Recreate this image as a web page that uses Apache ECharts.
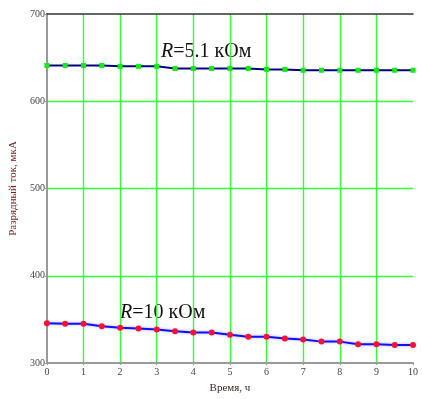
<!DOCTYPE html>
<html>
<head>
<meta charset="utf-8">
<script src="https://cdn.jsdelivr.net/npm/echarts@6/dist/echarts.min.js"></script>
<style>
html, body { margin: 0; padding: 0; background: #fff; }
#main { width: 422px; height: 399px; }
</style>
</head>
<body>
<div id="main"></div>
<script>
// время, ч
var hours = [0, 0.5, 1, 1.5, 2, 2.5, 3, 3.5, 4, 4.5, 5, 5.5, 6, 6.5, 7, 7.5, 8, 8.5, 9, 9.5, 10];
// R = 5.1 кОм, мкА
var current51 = [641, 641, 641, 641, 640, 640, 640, 637.5, 637.5, 637.5, 637.5, 637.5, 636.5, 636.5, 635.5, 635.5, 635.5, 635.5, 635.5, 635.5, 635.5];
// R = 10 кОм, мкА
var current10 = [345.5, 345, 345, 342, 340.5, 339.5, 338.5, 336.5, 335, 335, 332.5, 330, 330, 328, 327, 324.5, 324.5, 321.5, 321.5, 320.5, 320.5];
var yTicks = [300, 400, 500, 600, 700];

function pairs(xs, ys) {
	var out = [];
	for (var i = 0; i < xs.length; i++) out.push([xs[i], ys[i]]);
	return out;
}

var serif = '"Liberation Serif", "DejaVu Serif", serif';
var gridGreen = '#33ff33';
var chart = echarts.init(document.getElementById('main'));

var option = {
	animation: false,
	grid: { left: 33, top: 14, right: 9, bottom: 33 },
	xAxis: [{
		type: 'value', min: 0, max: 10, interval: 1,
		name: 'Время, ч', nameLocation: 'middle', nameGap: 20,
		nameTextStyle: { fontFamily: serif, fontSize: 11, color: '#3a2a20' },
		axisLine: { show: true, onZero: false, lineStyle: { color: '#999', width: 2 } },
		axisTick: { show: true, length: 2, lineStyle: { color: '#999' } },
		axisLabel: { fontFamily: serif, fontSize: 10, color: '#444', margin: 4 },
		splitLine: { show: true, showMinLine: false, showMaxLine: false, lineStyle: { color: gridGreen, width: 1.4 } }
	}, {
		type: 'value', min: 0, max: 10, position: 'top',
		axisLine: { show: true, lineStyle: { color: '#333', width: 1.5 } },
		axisTick: { show: false }, axisLabel: { show: false }, splitLine: { show: false }
	}],
	yAxis: [{
		type: 'value', min: yTicks[0], max: yTicks[yTicks.length - 1], interval: 100,
		name: 'Разрядный ток, мкА', nameLocation: 'middle', nameGap: 27,
		nameTextStyle: { fontFamily: serif, fontSize: 11, color: '#7a2020' },
		axisLine: { show: true, onZero: false, lineStyle: { color: '#999', width: 2 } },
		axisTick: { show: true, length: 2, lineStyle: { color: '#999' } },
		axisLabel: { fontFamily: serif, fontSize: 10, color: '#444', margin: 2 },
		splitLine: { show: true, showMinLine: false, showMaxLine: false, lineStyle: { color: gridGreen, width: 1.4 } }
	}, {
		type: 'value', min: 300, max: 700, position: 'right',
		axisLine: { show: true, lineStyle: { color: '#999', width: 2 } },
		axisTick: { show: false }, axisLabel: { show: false }, splitLine: { show: false }
	}],
	series: [{
		name: 'R=5.1 кОм', type: 'line',
		data: pairs(hours, current51),
		symbol: 'rect', symbolSize: 5,
		itemStyle: { color: '#11ee11' },
		lineStyle: { color: '#000080', width: 2 },
		z: 3
	}, {
		name: 'R=10 кОм', type: 'line',
		data: pairs(hours, current10),
		symbol: 'circle', symbolSize: 6,
		itemStyle: { color: '#ff1030' },
		lineStyle: { color: '#1010ff', width: 2, shadowColor: 'rgba(80,80,255,0.5)', shadowBlur: 3 },
		z: 3
	}],
	graphic: [{
		type: 'text', left: 161, top: 42,
		style: {
			text: '{i|R}=5.1 кОм',
			font: '20px ' + serif, fill: '#111',
			rich: { i: { fontStyle: 'italic', fontFamily: serif, fontSize: 20 } }
		}
	}, {
		type: 'text', left: 120, top: 303,
		style: {
			text: '{i|R}=10 кОм',
			font: '20px ' + serif, fill: '#111',
			rich: { i: { fontStyle: 'italic', fontFamily: serif, fontSize: 20 } }
		}
	}]
};
chart.setOption(option);
</script>
</body>
</html>
